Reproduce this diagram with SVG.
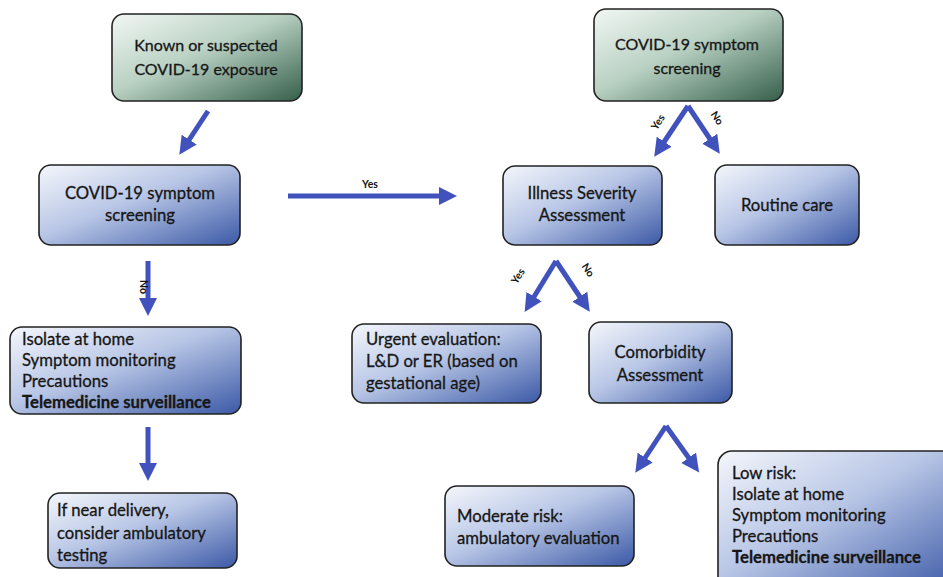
<svg xmlns="http://www.w3.org/2000/svg" width="943" height="577" viewBox="0 0 943 577">
<defs>
<linearGradient id="gGreen" x1="0" y1="0" x2="1" y2="1">
<stop offset="0" stop-color="#f2f7f4"/>
<stop offset="0.45" stop-color="#b9d1c3"/>
<stop offset="1" stop-color="#355f4b"/>
</linearGradient>
<linearGradient id="gBlue" x1="0" y1="0" x2="1" y2="1">
<stop offset="0" stop-color="#f4f6fb"/>
<stop offset="0.45" stop-color="#b8c6e6"/>
<stop offset="1" stop-color="#3b59a6"/>
</linearGradient>
<marker id="ah" markerUnits="userSpaceOnUse" markerWidth="20" markerHeight="20" viewBox="0 0 20 20" refX="4" refY="10" orient="auto">
<path d="M0,1 L18,10 L0,19 Z" fill="#4152bd"/>
</marker>
<style>
.box{stroke:#222;stroke-width:1.6}
.g{fill:url(#gGreen)}
.b{fill:url(#gBlue)}
text{font-family:"Lato","Open Sans","Liberation Sans",sans-serif;font-size:16.7px;fill:#161616;stroke:#161616;stroke-width:0.3}
.t{font-size:16px}
.c{text-anchor:middle}
.bold{font-weight:bold}
.lbl{font-size:10.5px;font-weight:bold;stroke:none}
.arr{stroke:#4152bd;stroke-width:5;fill:none;marker-end:url(#ah)}
</style>
</defs>
<rect width="943" height="577" fill="#ffffff"/>

<g id="connectors">
<line class="arr" x1="208" y1="111" x2="187" y2="143"/>
<line class="arr" x1="288" y1="196" x2="443" y2="196"/>
<text class="lbl" x="370" y="188" text-anchor="middle">Yes</text>
<line class="arr" x1="148" y1="261" x2="148" y2="302"/>
<text class="lbl" transform="translate(140,287) rotate(90)" text-anchor="middle">No</text>
<line class="arr" x1="148" y1="427" x2="148" y2="467"/>
<line class="arr" x1="688" y1="106" x2="662" y2="145"/>
<line class="arr" x1="688" y1="106" x2="712" y2="142"/>
<text class="lbl" transform="translate(661,124) rotate(-57)" text-anchor="middle">Yes</text>
<text class="lbl" transform="translate(714,120) rotate(57)" text-anchor="middle">No</text>
<line class="arr" x1="556" y1="261" x2="532" y2="300"/>
<line class="arr" x1="556" y1="261" x2="582" y2="300"/>
<text class="lbl" transform="translate(521,278) rotate(-57)" text-anchor="middle">Yes</text>
<text class="lbl" transform="translate(585,272) rotate(57)" text-anchor="middle">No</text>
<line class="arr" x1="666" y1="426" x2="643" y2="461"/>
<line class="arr" x1="666" y1="426" x2="691" y2="461"/>
</g>

<g id="n1">
<rect class="box g" x="112" y="14" width="190" height="87" rx="12"/>
<text class="c t" x="206" y="51">Known or suspected</text>
<text class="c t" x="206" y="75">COVID-19 exposure</text>
</g>
<g id="n2">
<rect class="box g" x="594" y="9" width="189" height="92" rx="12"/>
<text class="c t" x="687" y="50">COVID-19 symptom</text>
<text class="c t" x="687" y="74">screening</text>
</g>
<g id="n3">
<rect class="box b" x="39" y="165" width="201" height="80" rx="12"/>
<text class="c" x="140" y="199">COVID-19 symptom</text>
<text class="c" x="140" y="221">screening</text>
</g>
<g id="n4">
<rect class="box b" x="503" y="166" width="159" height="79" rx="12"/>
<text class="c" x="582" y="199">Illness Severity</text>
<text class="c" x="582" y="221">Assessment</text>
</g>
<g id="n5">
<rect class="box b" x="715" y="165" width="144" height="80" rx="12"/>
<text class="c" x="787" y="211">Routine care</text>
</g>
<g id="n6">
<rect class="box b" x="10" y="327" width="231" height="87" rx="12"/>
<text x="22" y="345">Isolate at home</text>
<text x="22" y="366">Symptom monitoring</text>
<text x="22" y="387">Precautions</text>
<text class="bold" x="22" y="408">Telemedicine surveillance</text>
</g>
<g id="n7">
<rect class="box b" x="352" y="324" width="189" height="79" rx="12"/>
<text x="366" y="345">Urgent evaluation:</text>
<text x="366" y="367">L&amp;D or ER (based on</text>
<text x="366" y="389">gestational age)</text>
</g>
<g id="n8">
<rect class="box b" x="589" y="322" width="143" height="81" rx="12"/>
<text class="c" x="660" y="358">Comorbidity</text>
<text class="c" x="660" y="381">Assessment</text>
</g>
<g id="n9">
<rect class="box b" x="48" y="493" width="189" height="75" rx="12"/>
<text x="57" y="516">If near delivery,</text>
<text x="57" y="539">consider ambulatory</text>
<text x="57" y="561">testing</text>
</g>
<g id="n10">
<rect class="box b" x="445" y="486" width="189" height="80" rx="12"/>
<text x="457" y="522">Moderate risk:</text>
<text x="457" y="544">ambulatory evaluation</text>
</g>
<g id="n11">
<rect class="box b" x="718" y="451" width="240" height="140" rx="14"/>
<text x="732" y="479">Low risk:</text>
<text x="732" y="500">Isolate at home</text>
<text x="732" y="521">Symptom monitoring</text>
<text x="732" y="542">Precautions</text>
<text class="bold" x="732" y="563">Telemedicine surveillance</text>
</g>
</svg>
